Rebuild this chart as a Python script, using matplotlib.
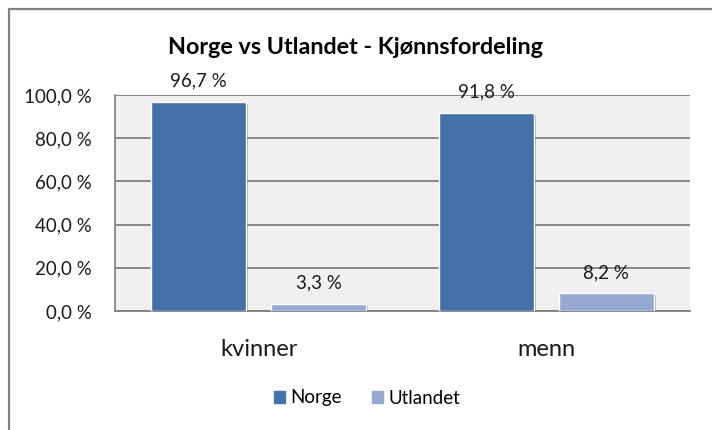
import matplotlib
matplotlib.use("Agg")
import matplotlib.pyplot as plt
import matplotlib.patheffects as pe
from matplotlib.patches import Rectangle
import numpy as np

categories = ["kvinner", "menn"]
series_names = ["Norge", "Utlandet"]
norge = [96.7, 91.8]
utlandet = [3.3, 8.2]
yticks = [0, 20, 40, 60, 80, 100]
title = "Norge vs Utlandet - Kjønnsfordeling"

colors = ["#4472A8", "#95AAD3"]
FONT = "Lato"
plt.rcParams['font.family'] = [FONT, 'DejaVu Sans']

fig = plt.figure(figsize=(7.12, 4.30), dpi=100)
fig.patch.set_facecolor("white")
# chart border (only top/left visible)
fig.add_artist(Rectangle((8.5/712, -0.1), 1.2, 1.1 - 9.5/430, transform=fig.transFigure,
                         fill=False, edgecolor="#808080", linewidth=1.6))

ax = fig.add_axes([115/712, 1 - 311/430, 575/712, 216/430])
ax.set_facecolor("#F0F0F0")
x = np.arange(len(categories))
w = 0.33
off = 0.209
shadow = [pe.SimplePatchShadow(offset=(1.5, -1.5), shadow_rgbFace="#000000", alpha=0.25), pe.Normal()]
for i, (vals, c, sgn) in enumerate(zip([norge, utlandet], colors, [-1, 1])):
    bars = ax.bar(x + sgn * off, vals, width=w, color=c, edgecolor="white", linewidth=1.0,
                  label=series_names[i], zorder=3)
    for b, v in zip(bars, vals):
        b.set_path_effects(shadow)
        ax.annotate(f"{v:.1f} %".replace(".", ","), (b.get_x() + b.get_width() / 2, v),
                    xytext=(0, 15), textcoords="offset points", ha="center", va="center",
                    fontsize=13.5, color="#1a1a1a", zorder=5, annotation_clip=False)

ax.set_xlim(-0.5, 1.5)
ax.set_ylim(0, 100)
ax.set_yticks(yticks)
ax.set_yticklabels([f"{t:.1f} %".replace(".", ",") for t in yticks], fontsize=13.5, color="#1a1a1a")
ax.set_xticks(x)
ax.set_xticklabels(categories, fontsize=17, color="#1a1a1a")
ax.tick_params(axis="y", length=0, pad=17)
ax.tick_params(axis="x", length=0, pad=20)
ax.yaxis.grid(True, color="#808080", linewidth=1.3, zorder=1)
ax.set_axisbelow(True)
for s in ["top", "right"]:
    ax.spines[s].set_visible(False)
ax.spines["left"].set_color("#888888")
ax.spines["left"].set_linewidth(1.3)
ax.spines["bottom"].set_color("#808080")
ax.spines["bottom"].set_linewidth(1.3)

fig.text(355/712, 1 - 47/430, title, ha="center", va="center", fontsize=16.8, fontweight="bold", color="black")

handles = [Rectangle((0, 0), 1, 1, color=c) for c in colors]
fig.legend(handles, series_names, loc="center", bbox_to_anchor=(367/712, 1 - 398/430), ncol=2,
           frameon=False, fontsize=13.5, handlelength=0.6, handleheight=0.6, handletextpad=0.3,
           columnspacing=1.6)

fig.savefig("out.png", dpi=100)
